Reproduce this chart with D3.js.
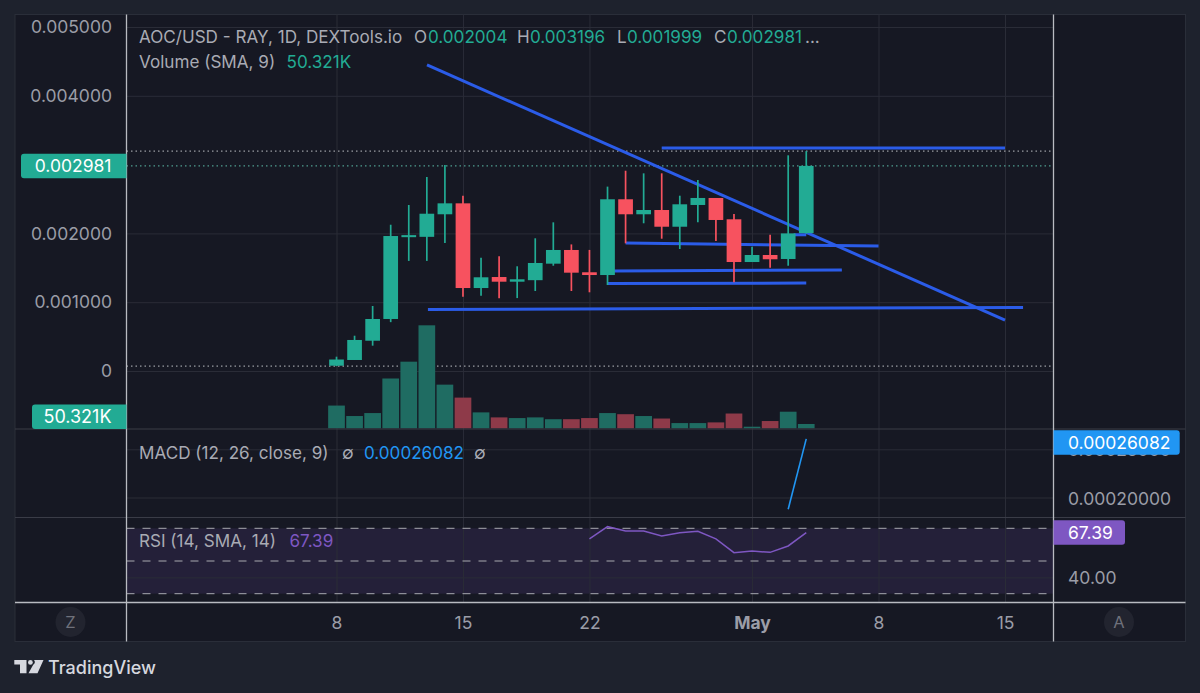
<!DOCTYPE html>
<html>
<head>
<meta charset="utf-8">
<script src="https://cdn.jsdelivr.net/npm/d3@7"></script>
<style>
html,body{margin:0;padding:0;background:#1e222d;overflow:hidden}
svg{display:block}
text{font-family:Inter,"Noto Sans",sans-serif}
</style>
</head>
<body>
<svg id="c" width="1200" height="693"></svg>
<script>
// ---- data ----
const candleDays = [0,1,2,3,4,5,6,7,8,9,10,11,12,13,14,15,16,17,18,19,20,21,22,23,24,25,26];
const opens  = [.000077,.000160,.000440,.000756,.001945,.001950,.002278,.002437,.001206,.001366,.001298,.001320,.001560,.001759,.001435,.001395,.002496,.002278,.002340,.002097,.002413,.002515,.002205,.001584,.001686,.001628,.002004];
const closes = [.000167,.000451,.000756,.001962,.001975,.002286,.002437,.001206,.001362,.001298,.001333,.001570,.001759,.001429,.001395,.002496,.002278,.002340,.002097,.002423,.002515,.002195,.001584,.001686,.001624,.002000,.002981];
const highs  = [.000208,.000513,.000945,.002126,.002413,.002820,.002994,.002548,.001647,.001667,.001522,.001929,.002161,.001840,.001760,.002680,.002911,.002873,.002873,.002548,.002776,.002515,.002282,.001807,.001981,.003135,.003196];
const lows   = [.000070,.000160,.000368,.000710,.001600,.001600,.001860,.001080,.001094,.001057,.001060,.001163,.001530,.001163,.001144,.001250,.001856,.002147,.001923,.001773,.002161,.001890,.001289,.001584,.001500,.001530,.001999];
const volumes = [100,54,67,219,293,453,192,135,70,48,45,48,40,40,45,67,62,54,43,23,23,26,65,7,32,73,19];
const volumeSma = 50.321;
const rsiDays = [14,15,16,17,18,19,20,21,22,23,24,25,26];
const rsiValues = [63.5,71,68.3,68.3,65.3,67.3,68.2,63.5,55.1,56.1,55.3,59.2,67.39];
const macdDays = [25,26];
const macdValues = [.0001878,.00026082];
// trend lines drawn on the chart: [day, price, day, price]
const trendLines = [
  [5.01,.004448,37,.000741],
  [18,.003241,37,.003241],
  [16,.001860,30,.001817],
  [15.25,.001453,27.97,.001468],
  [15,.001270,26,.001279],
  [5.06,.000894,38,.000923],
  [25.3,.001980,26,.001980]
];
const priceTicks = [.005,.004,.002,.001,0];
const macdTicks = [.00025,.0002];
const rsiGridTicks = [40];
const rsiBands = [70,50,30];
const timeTickDays = [0,7,14,23,30,37];
const timeTickLabels = ["8","15","22","May","8","15"];
const titleText = "AOC/USD - RAY, 1D, DEXTools.io";

// ---- colours ----
const UP="#22ab94", DOWN="#f7525f", VUP="#1f6c62", VDOWN="#8e3a49",
      GRID="#2a2c37", SEP="#3a3c47", AXIS="#b9bbc1", TXT="#9b9da7", BLUE="#2b5ce8";

// ---- scales ----
const x = d3.scaleLinear().domain([0,37]).range([336.5,1005]);
const yP = d3.scaleLinear().domain([0,.005]).range([371,27]);
const yV = d3.scaleLinear().domain([0,453]).range([428.3,325.3]);
const yM = d3.scaleLinear().domain([.0002,.00025]).range([497.5,449.3]);
const yR = d3.scaleLinear().domain([30,70]).range([593.7,528.3]);

const svg = d3.select("#c");
const L=126.5,R=1053.5,T=14.5,B=641.5,OL=15,OR=1185.5;
svg.append("rect").attr("width",1200).attr("height",693).attr("fill","#1e222d");
svg.append("rect").attr("x",OL).attr("y",T).attr("width",OR-OL).attr("height",B-T).attr("fill","#161823").attr("stroke","#2a2e39");

// RSI band
svg.append("rect").attr("x",L).attr("width",R-L).attr("y",yR(70)).attr("height",yR(30)-yR(70)).attr("fill","#7e57c2").attr("opacity",.14);

// vertical grid via axis
const gridX = svg.append("g").attr("transform",`translate(0,${T})`)
  .call(d3.axisBottom(x).tickValues(timeTickDays).tickSize(602.5-T).tickFormat(""));
gridX.select(".domain").remove();
gridX.selectAll("line").attr("stroke",GRID);

function hGrid(scale,ticks){
  const g=svg.append("g").attr("transform",`translate(${L},0)`)
    .call(d3.axisRight(scale).tickValues(ticks).tickSize(R-L).tickFormat(""));
  g.select(".domain").remove();
  g.selectAll("line").attr("stroke",GRID);
}
hGrid(yP,priceTicks); hGrid(yM,macdTicks); hGrid(yR,rsiGridTicks);

// dashed RSI bands
svg.append("g").selectAll("line").data(rsiBands).join("line")
  .attr("x1",L).attr("x2",R).attr("y1",d=>yR(d)).attr("y2",d=>yR(d))
  .attr("stroke","#a8a9b0").attr("stroke-dasharray","8 8");

// hi / lo / last dotted lines
const hi=d3.max(highs), lo=d3.min(lows), last=closes[closes.length-1];
[[hi,"#9a9ca3"],[lo,"#9a9ca3"],[last,"#4f9c90"]].forEach(([v,c])=>{
  svg.append("line").attr("x1",L).attr("x2",R).attr("y1",yP(v)).attr("y2",yP(v))
    .attr("stroke",c).attr("stroke-width",1.2).attr("stroke-dasharray","1.5 3");
});

// volume
const volW=16.7;
svg.append("g").selectAll("rect").data(candleDays).join("rect")
  .attr("x",d=>x(d)-volW/2).attr("width",volW)
  .attr("y",(d,i)=>yV(volumes[i])).attr("height",(d,i)=>yV(0)-yV(volumes[i]))
  .attr("fill",(d,i)=>closes[i]>=opens[i]?VUP:VDOWN);

// trend lines
svg.append("g").selectAll("line").data(trendLines).join("line")
  .attr("x1",d=>x(d[0])).attr("y1",d=>yP(d[1])).attr("x2",d=>x(d[2])).attr("y2",d=>yP(d[3]))
  .attr("stroke",BLUE).attr("stroke-width",3).attr("stroke-linecap","butt");

// candles
const bodyW=14.7;
const col=i=>closes[i]>=opens[i]?UP:DOWN;
const cg=svg.append("g");
cg.selectAll("line").data(candleDays).join("line")
  .attr("x1",d=>x(d)).attr("x2",d=>x(d))
  .attr("y1",(d,i)=>yP(highs[i])).attr("y2",(d,i)=>yP(lows[i]))
  .attr("stroke",(d,i)=>col(i)).attr("stroke-width",1.7);
cg.selectAll("rect").data(candleDays).join("rect")
  .attr("x",d=>x(d)-bodyW/2).attr("width",bodyW)
  .attr("y",(d,i)=>yP(Math.max(opens[i],closes[i])))
  .attr("height",(d,i)=>Math.max(2,Math.abs(yP(opens[i])-yP(closes[i]))))
  .attr("fill",(d,i)=>col(i));

// MACD, RSI lines
svg.append("path").datum(macdDays.map((d,i)=>[d,macdValues[i]]))
  .attr("d",d3.line().x(d=>x(d[0])).y(d=>yM(d[1])))
  .attr("fill","none").attr("stroke","#2196f3").attr("stroke-width",1.6);
svg.append("path").datum(rsiDays.map((d,i)=>[d,rsiValues[i]]))
  .attr("d",d3.line().x(d=>x(d[0])).y(d=>yR(d[1])))
  .attr("fill","none").attr("stroke","#7e57c2").attr("stroke-width",1.5);

// separators
[429,517.5].forEach(y=>svg.append("line").attr("x1",OL).attr("x2",OR).attr("y1",y).attr("y2",y).attr("stroke",SEP));
svg.append("line").attr("x1",OL).attr("x2",OR).attr("y1",602.5).attr("y2",602.5).attr("stroke",AXIS).attr("stroke-width",1.3);
[L,R].forEach(px=>svg.append("line").attr("x1",px).attr("x2",px).attr("y1",T).attr("y2",B).attr("stroke",AXIS).attr("stroke-width",1.3));

// axes
const FS=17.5;
function styleAxis(g){
  g.select(".domain").remove();
  g.selectAll("line").remove();
  g.selectAll("text").attr("font-size",FS).attr("fill",TXT).attr("font-family","Inter,'Noto Sans',sans-serif");
}
svg.append("g").attr("transform","translate(112,0)")
  .call(d3.axisLeft(yP).tickValues(priceTicks).tickSize(0).tickPadding(0)
    .tickFormat(d=>d===0?"0":d3.format(".6f")(d))).call(styleAxis);
svg.append("g").attr("transform","translate(1068,1)")
  .call(d3.axisRight(yM).tickValues(macdTicks).tickSize(0).tickPadding(0).tickFormat(d3.format(".8f"))).call(styleAxis);
svg.append("g").attr("transform","translate(1068,1)")
  .call(d3.axisRight(yR).tickValues(rsiGridTicks).tickSize(0).tickPadding(0).tickFormat(d3.format(".2f"))).call(styleAxis);
const tAxis=svg.append("g").attr("transform","translate(0,617)")
  .call(d3.axisBottom(x).tickValues(timeTickDays).tickSize(0).tickPadding(0).tickFormat((d,i)=>timeTickLabels[i])).call(styleAxis);
tAxis.selectAll("text").filter((d,i)=>timeTickLabels[i]==="May").attr("font-weight",700);

// price badges
function leftBadge(x0,y,label,fill,fs){
  const h=24.5,r=3,xr=L;
  svg.append("path").attr("fill",fill)
    .attr("d",`M${xr},${y-h/2}H${x0+r}Q${x0},${y-h/2} ${x0},${y-h/2+r}V${y+h/2-r}Q${x0},${y+h/2} ${x0+r},${y+h/2}H${xr}Z`);
  svg.append("text").attr("x",111.5).attr("y",y).attr("dy",".36em").attr("text-anchor","end")
    .attr("font-size",fs||FS).attr("fill","#fff").text(label);
}
function rightBadge(x1,y,label,fill){
  const h=24.5,r=3,xl=R;
  svg.append("path").attr("fill",fill)
    .attr("d",`M${xl},${y-h/2}H${x1-r}Q${x1},${y-h/2} ${x1},${y-h/2+r}V${y+h/2-r}Q${x1},${y+h/2} ${x1-r},${y+h/2}H${xl}Z`);
  svg.append("text").attr("x",1068).attr("y",y).attr("dy",".36em")
    .attr("font-size",FS).attr("fill","#fff").text(label);
}
leftBadge(21,yP(last),d3.format(".6f")(last),UP);
leftBadge(32,yV(volumeSma),volumeSma.toFixed(3)+"K",UP,18);
rightBadge(1179.7,Math.max(yM(macdValues[1]),442.4),d3.format(".8f")(macdValues[1]),"#2196f3");
rightBadge(1125,yR(rsiValues[rsiValues.length-1]),rsiValues[rsiValues.length-1].toFixed(2),"#7e57c2");

// legends
const LFS=17.1;
function t(px,y,s,fill,size){
  return svg.append("text").attr("x",px).attr("y",y).attr("dy",".36em").attr("font-size",size||LFS).attr("fill",fill).text(s);
}
const LEG="#a9abb4", i0=opens.length-1;
t(139,37,titleText,LEG);
t(414,37,"O",LEG); t(428,37,d3.format(".6f")(opens[i0]),UP);
t(517,37,"H",LEG); t(530,37,d3.format(".6f")(highs[i0]),UP);
t(617,37,"L",LEG); t(627,37,d3.format(".6f")(lows[i0]),UP);
t(714,37,"C",LEG); t(727,37,d3.format(".6f")(last),UP); t(805,37,"...",LEG);
t(139,62,"Volume (SMA, 9)",LEG); t(286.5,62,volumeSma.toFixed(3)+"K",UP);
t(139,453,"MACD (12, 26, close, 9)",LEG); t(342,453,"∅",LEG); t(364,453,d3.format(".8f")(macdValues[1]),"#2196f3"); t(474,453,"∅",LEG);
t(139,541,"RSI (14, SMA, 14)",LEG); t(289.5,541,rsiValues[rsiValues.length-1].toFixed(2),"#7e57c2");

// Z / A buttons
[[70.5,"Z"],[1119,"A"]].forEach(([cx,s])=>{
  svg.append("circle").attr("cx",cx).attr("cy",622).attr("r",15).attr("fill","#22242f");
  svg.append("text").attr("x",cx).attr("y",622).attr("dy",".36em").attr("text-anchor","middle").attr("font-size",16.5).attr("fill","#6f717b").text(s);
});

// TradingView mark
svg.append("path").attr("fill","#d6d8df").attr("d","M14.3,660H26.5V673.3H20V664.6H14.3Z M34,660H43.5L37.5,673.3H28.5L33.2,664.8A3,3 0 0 0 34,660Z");
svg.append("circle").attr("cx",30.4).attr("cy",662.4).attr("r",2.4).attr("fill","#d6d8df");
svg.append("text").attr("x",48).attr("y",668).attr("dy",".36em").attr("font-size",18).attr("font-weight",500).attr("fill","#d6d8df").text("TradingView");
</script>
</body>
</html>
